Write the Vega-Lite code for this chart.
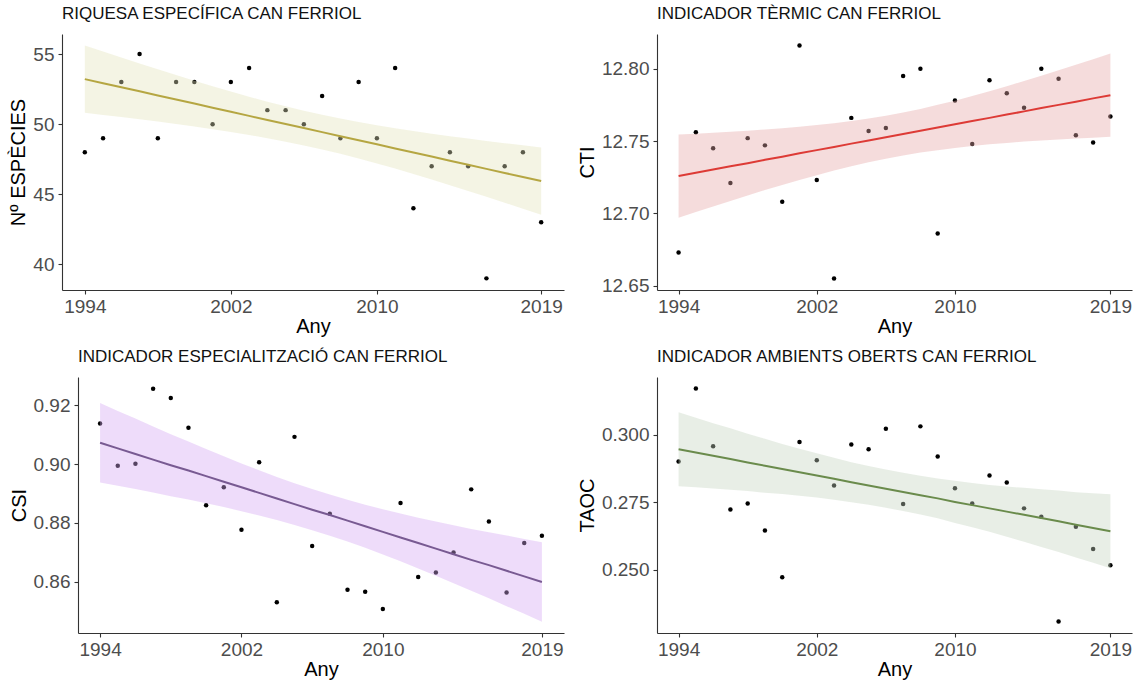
{
  "$schema": "https://vega.github.io/schema/vega-lite/v6.json",
  "background": "white",
  "padding": {"left": 8, "top": 5, "right": 5, "bottom": 5},
  "config": {
    "view": {"stroke": null},
    "font": "Liberation Sans",
    "axis": {
      "grid": false,
      "domainColor": "#333333",
      "domainWidth": 1.1,
      "tickColor": "#333333",
      "tickWidth": 1.1,
      "tickSize": 4,
      "labelColor": "#4d4d4d",
      "labelFontSize": 19,
      "labelFont": "Liberation Sans",
      "labelPadding": 4,
      "titleFont": "Liberation Sans",
      "titleFontSize": 20,
      "titleFontWeight": "normal",
      "titleColor": "#000000"
    },
    "axisX": {"titlePadding": 0, "labelPadding": 3, "labelFlush": false, "labelOverlap": false},
    "axisY": {"titlePadding": 4, "labelOverlap": false},
    "title": {"font": "Liberation Sans", "fontSize": 17, "fontWeight": "normal", "color": "#111111", "anchor": "start", "frame": "group", "offset": 11, "baseline": "alphabetic"}
  },
  "datasets": {
    "p1": [
      {"year": 1994, "value": 48, "fit": 53.21, "lo": 50.81, "hi": 55.61},
      {"year": 1995, "value": 49, "fit": 52.92, "lo": 50.66, "hi": 55.18},
      {"year": 1996, "value": 53, "fit": 52.63, "lo": 50.51, "hi": 54.75},
      {"year": 1997, "value": 55, "fit": 52.34, "lo": 50.35, "hi": 54.33},
      {"year": 1998, "value": 49, "fit": 52.05, "lo": 50.18, "hi": 53.92},
      {"year": 1999, "value": 53, "fit": 51.76, "lo": 50.01, "hi": 53.51},
      {"year": 2000, "value": 53, "fit": 51.47, "lo": 49.84, "hi": 53.10},
      {"year": 2001, "value": 50, "fit": 51.17, "lo": 49.64, "hi": 52.70},
      {"year": 2002, "value": 53, "fit": 50.88, "lo": 49.44, "hi": 52.32},
      {"year": 2003, "value": 54, "fit": 50.59, "lo": 49.23, "hi": 51.95},
      {"year": 2004, "value": 51, "fit": 50.30, "lo": 49.00, "hi": 51.60},
      {"year": 2005, "value": 51, "fit": 50.01, "lo": 48.75, "hi": 51.27},
      {"year": 2006, "value": 50, "fit": 49.72, "lo": 48.48, "hi": 50.96},
      {"year": 2007, "value": 52, "fit": 49.43, "lo": 48.19, "hi": 50.67},
      {"year": 2008, "value": 49, "fit": 49.14, "lo": 47.88, "hi": 50.40},
      {"year": 2009, "value": 53, "fit": 48.85, "lo": 47.55, "hi": 50.15},
      {"year": 2010, "value": 49, "fit": 48.56, "lo": 47.20, "hi": 49.92},
      {"year": 2011, "value": 54, "fit": 48.27, "lo": 46.83, "hi": 49.71},
      {"year": 2012, "value": 44, "fit": 47.98, "lo": 46.45, "hi": 49.51},
      {"year": 2013, "value": 47, "fit": 47.69, "lo": 46.06, "hi": 49.32},
      {"year": 2014, "value": 48, "fit": 47.39, "lo": 45.64, "hi": 49.14},
      {"year": 2015, "value": 47, "fit": 47.10, "lo": 45.23, "hi": 48.97},
      {"year": 2016, "value": 39, "fit": 46.81, "lo": 44.82, "hi": 48.80},
      {"year": 2017, "value": 47, "fit": 46.52, "lo": 44.40, "hi": 48.64},
      {"year": 2018, "value": 48, "fit": 46.23, "lo": 43.97, "hi": 48.49},
      {"year": 2019, "value": 43, "fit": 45.94, "lo": 43.54, "hi": 48.34}
    ],
    "p2": [
      {"year": 1994, "value": 12.673, "fit": 12.7258, "lo": 12.6970, "hi": 12.7546},
      {"year": 1995, "value": 12.756, "fit": 12.7280, "lo": 12.7009, "hi": 12.7551},
      {"year": 1996, "value": 12.745, "fit": 12.7303, "lo": 12.7048, "hi": 12.7558},
      {"year": 1997, "value": 12.721, "fit": 12.7325, "lo": 12.7086, "hi": 12.7564},
      {"year": 1998, "value": 12.752, "fit": 12.7347, "lo": 12.7123, "hi": 12.7571},
      {"year": 1999, "value": 12.747, "fit": 12.7370, "lo": 12.7161, "hi": 12.7580},
      {"year": 2000, "value": 12.708, "fit": 12.7392, "lo": 12.7196, "hi": 12.7588},
      {"year": 2001, "value": 12.816, "fit": 12.7415, "lo": 12.7231, "hi": 12.7599},
      {"year": 2002, "value": 12.723, "fit": 12.7437, "lo": 12.7264, "hi": 12.7610},
      {"year": 2003, "value": 12.655, "fit": 12.7459, "lo": 12.7296, "hi": 12.7623},
      {"year": 2004, "value": 12.766, "fit": 12.7482, "lo": 12.7326, "hi": 12.7638},
      {"year": 2005, "value": 12.757, "fit": 12.7504, "lo": 12.7353, "hi": 12.7655},
      {"year": 2006, "value": 12.759, "fit": 12.7526, "lo": 12.7378, "hi": 12.7675},
      {"year": 2007, "value": 12.795, "fit": 12.7549, "lo": 12.7400, "hi": 12.7697},
      {"year": 2008, "value": 12.800, "fit": 12.7571, "lo": 12.7420, "hi": 12.7722},
      {"year": 2009, "value": 12.686, "fit": 12.7593, "lo": 12.7437, "hi": 12.7750},
      {"year": 2010, "value": 12.778, "fit": 12.7616, "lo": 12.7452, "hi": 12.7779},
      {"year": 2011, "value": 12.748, "fit": 12.7638, "lo": 12.7465, "hi": 12.7811},
      {"year": 2012, "value": 12.792, "fit": 12.7660, "lo": 12.7477, "hi": 12.7844},
      {"year": 2013, "value": 12.783, "fit": 12.7683, "lo": 12.7487, "hi": 12.7879},
      {"year": 2014, "value": 12.773, "fit": 12.7705, "lo": 12.7496, "hi": 12.7915},
      {"year": 2015, "value": 12.800, "fit": 12.7728, "lo": 12.7504, "hi": 12.7951},
      {"year": 2016, "value": 12.793, "fit": 12.7750, "lo": 12.7511, "hi": 12.7989},
      {"year": 2017, "value": 12.754, "fit": 12.7772, "lo": 12.7517, "hi": 12.8027},
      {"year": 2018, "value": 12.749, "fit": 12.7795, "lo": 12.7523, "hi": 12.8066},
      {"year": 2019, "value": 12.767, "fit": 12.7817, "lo": 12.7529, "hi": 12.8105}
    ],
    "p3": [
      {"year": 1994, "value": 0.9137, "fit": 0.9072, "lo": 0.8937, "hi": 0.9207},
      {"year": 1995, "value": 0.8994, "fit": 0.9053, "lo": 0.8926, "hi": 0.9180},
      {"year": 1996, "value": 0.9001, "fit": 0.9034, "lo": 0.8915, "hi": 0.9154},
      {"year": 1997, "value": 0.9255, "fit": 0.9015, "lo": 0.8903, "hi": 0.9127},
      {"year": 1998, "value": 0.9224, "fit": 0.8996, "lo": 0.8891, "hi": 0.9101},
      {"year": 1999, "value": 0.9123, "fit": 0.8978, "lo": 0.8880, "hi": 0.9076},
      {"year": 2000, "value": 0.8860, "fit": 0.8959, "lo": 0.8867, "hi": 0.9051},
      {"year": 2001, "value": 0.8921, "fit": 0.8940, "lo": 0.8854, "hi": 0.9026},
      {"year": 2002, "value": 0.8777, "fit": 0.8921, "lo": 0.8840, "hi": 0.9002},
      {"year": 2003, "value": 0.9006, "fit": 0.8902, "lo": 0.8825, "hi": 0.8979},
      {"year": 2004, "value": 0.8531, "fit": 0.8883, "lo": 0.8810, "hi": 0.8956},
      {"year": 2005, "value": 0.9092, "fit": 0.8864, "lo": 0.8793, "hi": 0.8935},
      {"year": 2006, "value": 0.8722, "fit": 0.8845, "lo": 0.8775, "hi": 0.8915},
      {"year": 2007, "value": 0.8831, "fit": 0.8827, "lo": 0.8757, "hi": 0.8897},
      {"year": 2008, "value": 0.8574, "fit": 0.8808, "lo": 0.8737, "hi": 0.8879},
      {"year": 2009, "value": 0.8567, "fit": 0.8789, "lo": 0.8716, "hi": 0.8862},
      {"year": 2010, "value": 0.8508, "fit": 0.8770, "lo": 0.8693, "hi": 0.8847},
      {"year": 2011, "value": 0.8868, "fit": 0.8751, "lo": 0.8670, "hi": 0.8832},
      {"year": 2012, "value": 0.8617, "fit": 0.8732, "lo": 0.8646, "hi": 0.8818},
      {"year": 2013, "value": 0.8632, "fit": 0.8713, "lo": 0.8621, "hi": 0.8805},
      {"year": 2014, "value": 0.8700, "fit": 0.8694, "lo": 0.8596, "hi": 0.8792},
      {"year": 2015, "value": 0.8914, "fit": 0.8675, "lo": 0.8570, "hi": 0.8780},
      {"year": 2016, "value": 0.8805, "fit": 0.8657, "lo": 0.8545, "hi": 0.8769},
      {"year": 2017, "value": 0.8564, "fit": 0.8638, "lo": 0.8518, "hi": 0.8758},
      {"year": 2018, "value": 0.8732, "fit": 0.8619, "lo": 0.8492, "hi": 0.8746},
      {"year": 2019, "value": 0.8757, "fit": 0.8600, "lo": 0.8465, "hi": 0.8735}
    ],
    "p4": [
      {"year": 1994, "value": 0.2902, "fit": 0.2947, "lo": 0.2810, "hi": 0.3084},
      {"year": 1995, "value": 0.3172, "fit": 0.2935, "lo": 0.2806, "hi": 0.3064},
      {"year": 1996, "value": 0.2958, "fit": 0.2923, "lo": 0.2802, "hi": 0.3044},
      {"year": 1997, "value": 0.2724, "fit": 0.2911, "lo": 0.2797, "hi": 0.3025},
      {"year": 1998, "value": 0.2746, "fit": 0.2898, "lo": 0.2792, "hi": 0.3005},
      {"year": 1999, "value": 0.2646, "fit": 0.2886, "lo": 0.2786, "hi": 0.2986},
      {"year": 2000, "value": 0.2473, "fit": 0.2874, "lo": 0.2781, "hi": 0.2967},
      {"year": 2001, "value": 0.2974, "fit": 0.2862, "lo": 0.2775, "hi": 0.2949},
      {"year": 2002, "value": 0.2906, "fit": 0.2850, "lo": 0.2768, "hi": 0.2932},
      {"year": 2003, "value": 0.2813, "fit": 0.2838, "lo": 0.2760, "hi": 0.2916},
      {"year": 2004, "value": 0.2965, "fit": 0.2825, "lo": 0.2751, "hi": 0.2899},
      {"year": 2005, "value": 0.2947, "fit": 0.2813, "lo": 0.2741, "hi": 0.2885},
      {"year": 2006, "value": 0.3023, "fit": 0.2801, "lo": 0.2730, "hi": 0.2872},
      {"year": 2007, "value": 0.2744, "fit": 0.2789, "lo": 0.2718, "hi": 0.2860},
      {"year": 2008, "value": 0.3032, "fit": 0.2777, "lo": 0.2705, "hi": 0.2849},
      {"year": 2009, "value": 0.2920, "fit": 0.2765, "lo": 0.2691, "hi": 0.2839},
      {"year": 2010, "value": 0.2803, "fit": 0.2752, "lo": 0.2674, "hi": 0.2830},
      {"year": 2011, "value": 0.2746, "fit": 0.2740, "lo": 0.2658, "hi": 0.2822},
      {"year": 2012, "value": 0.2850, "fit": 0.2728, "lo": 0.2641, "hi": 0.2815},
      {"year": 2013, "value": 0.2824, "fit": 0.2716, "lo": 0.2623, "hi": 0.2809},
      {"year": 2014, "value": 0.2728, "fit": 0.2704, "lo": 0.2604, "hi": 0.2804},
      {"year": 2015, "value": 0.2697, "fit": 0.2692, "lo": 0.2585, "hi": 0.2799},
      {"year": 2016, "value": 0.2309, "fit": 0.2680, "lo": 0.2566, "hi": 0.2794},
      {"year": 2017, "value": 0.2660, "fit": 0.2667, "lo": 0.2546, "hi": 0.2788},
      {"year": 2018, "value": 0.2577, "fit": 0.2655, "lo": 0.2526, "hi": 0.2784},
      {"year": 2019, "value": 0.2517, "fit": 0.2643, "lo": 0.2506, "hi": 0.2780}
    ]
  },
  "columns": 2,
  "bounds": "flush",
  "spacing": {"row": 87, "column": 93},
  "concat": [
    {
      "title": {"text": "RIQUESA ESPECÍFICA CAN FERRIOL"},
      "width": 502,
      "height": 256,
      "data": {"name": "p1"},
      "encoding": {
        "x": {"field": "year", "type": "quantitative", "scale": {"domain": [1992.75, 2020.25], "nice": false, "zero": false}, "axis": {"values": [1994, 2002, 2010, 2019], "format": "d", "title": "Any"}}
      },
      "layer": [
        {"mark": {"type": "point", "filled": true, "size": 20, "color": "#000000", "opacity": 1},
         "encoding": {"y": {"field": "value", "type": "quantitative", "scale": {"domain": [38.17, 56.43], "nice": false, "zero": false}, "axis": {"values": [40, 45, 50, 55], "title": "Nº ESPÈCIES"}}}},
        {"mark": {"type": "area", "color": "#E4E4BC", "opacity": 0.4},
         "encoding": {"y": {"field": "lo", "type": "quantitative", "scale": {"domain": [38.17, 56.43], "nice": false, "zero": false}, "axis": {"values": [40, 45, 50, 55], "title": "Nº ESPÈCIES"}}, "y2": {"field": "hi"}}},
        {"mark": {"type": "line", "color": "#B5A642", "strokeWidth": 2},
         "encoding": {"y": {"field": "fit", "type": "quantitative", "scale": {"domain": [38.17, 56.43], "nice": false, "zero": false}, "axis": {"values": [40, 45, 50, 55], "title": "Nº ESPÈCIES"}}}}
      ]
    },
    {
      "title": {"text": "INDICADOR TÈRMIC CAN FERRIOL"},
      "width": 475,
      "height": 256,
      "data": {"name": "p2"},
      "encoding": {
        "x": {"field": "year", "type": "quantitative", "scale": {"domain": [1992.75, 2020.25], "nice": false, "zero": false}, "axis": {"values": [1994, 2002, 2010, 2019], "format": "d", "title": "Any"}}
      },
      "layer": [
        {"mark": {"type": "point", "filled": true, "size": 20, "color": "#000000", "opacity": 1},
         "encoding": {"y": {"field": "value", "type": "quantitative", "scale": {"domain": [12.647, 12.824], "nice": false, "zero": false}, "axis": {"values": [12.65, 12.7, 12.75, 12.8], "format": ".2f", "title": "CTI"}}}},
        {"mark": {"type": "area", "color": "#E6A8A8", "opacity": 0.4},
         "encoding": {"y": {"field": "lo", "type": "quantitative", "scale": {"domain": [12.647, 12.824], "nice": false, "zero": false}, "axis": {"values": [12.65, 12.7, 12.75, 12.8], "format": ".2f", "title": "CTI"}}, "y2": {"field": "hi"}}},
        {"mark": {"type": "line", "color": "#DD3B36", "strokeWidth": 2},
         "encoding": {"y": {"field": "fit", "type": "quantitative", "scale": {"domain": [12.647, 12.824], "nice": false, "zero": false}, "axis": {"values": [12.65, 12.7, 12.75, 12.8], "format": ".2f", "title": "CTI"}}}}
      ]
    },
    {
      "title": {"text": "INDICADOR ESPECIALITZACIÓ CAN FERRIOL", "dx": 16},
      "width": 502,
      "height": 256,
      "data": {"name": "p3"},
      "encoding": {
        "x": {"field": "year", "type": "quantitative", "scale": {"domain": [1992.75, 2020.25], "range": [16, 502], "nice": false, "zero": false}, "axis": {"values": [1994, 2002, 2010, 2019], "format": "d", "title": "Any"}}
      },
      "layer": [
        {"mark": {"type": "point", "filled": true, "size": 20, "color": "#000000", "opacity": 1},
         "encoding": {"y": {"field": "value", "type": "quantitative", "scale": {"domain": [0.8427, 0.9295], "nice": false, "zero": false}, "axis": {"values": [0.86, 0.88, 0.9, 0.92], "format": ".2f", "title": "CSI", "offset": -16}}}},
        {"mark": {"type": "area", "color": "#D4A7F2", "opacity": 0.4},
         "encoding": {"y": {"field": "lo", "type": "quantitative", "scale": {"domain": [0.8427, 0.9295], "nice": false, "zero": false}, "axis": {"values": [0.86, 0.88, 0.9, 0.92], "format": ".2f", "title": "CSI", "offset": -16}}, "y2": {"field": "hi"}}},
        {"mark": {"type": "line", "color": "#785A92", "strokeWidth": 2},
         "encoding": {"y": {"field": "fit", "type": "quantitative", "scale": {"domain": [0.8427, 0.9295], "nice": false, "zero": false}, "axis": {"values": [0.86, 0.88, 0.9, 0.92], "format": ".2f", "title": "CSI", "offset": -16}}}}
      ]
    },
    {
      "title": {"text": "INDICADOR AMBIENTS OBERTS CAN FERRIOL"},
      "width": 475,
      "height": 256,
      "data": {"name": "p4"},
      "encoding": {
        "x": {"field": "year", "type": "quantitative", "scale": {"domain": [1992.75, 2020.25], "nice": false, "zero": false}, "axis": {"values": [1994, 2002, 2010, 2019], "format": "d", "title": "Any"}}
      },
      "layer": [
        {"mark": {"type": "point", "filled": true, "size": 20, "color": "#000000", "opacity": 1},
         "encoding": {"y": {"field": "value", "type": "quantitative", "scale": {"domain": [0.2266, 0.3215], "nice": false, "zero": false}, "axis": {"values": [0.25, 0.275, 0.3], "format": ".3f", "title": "TAOC"}}}},
        {"mark": {"type": "area", "color": "#C5D4C0", "opacity": 0.4},
         "encoding": {"y": {"field": "lo", "type": "quantitative", "scale": {"domain": [0.2266, 0.3215], "nice": false, "zero": false}, "axis": {"values": [0.25, 0.275, 0.3], "format": ".3f", "title": "TAOC"}}, "y2": {"field": "hi"}}},
        {"mark": {"type": "line", "color": "#6A8B4C", "strokeWidth": 2},
         "encoding": {"y": {"field": "fit", "type": "quantitative", "scale": {"domain": [0.2266, 0.3215], "nice": false, "zero": false}, "axis": {"values": [0.25, 0.275, 0.3], "format": ".3f", "title": "TAOC"}}}}
      ]
    }
  ]
}
